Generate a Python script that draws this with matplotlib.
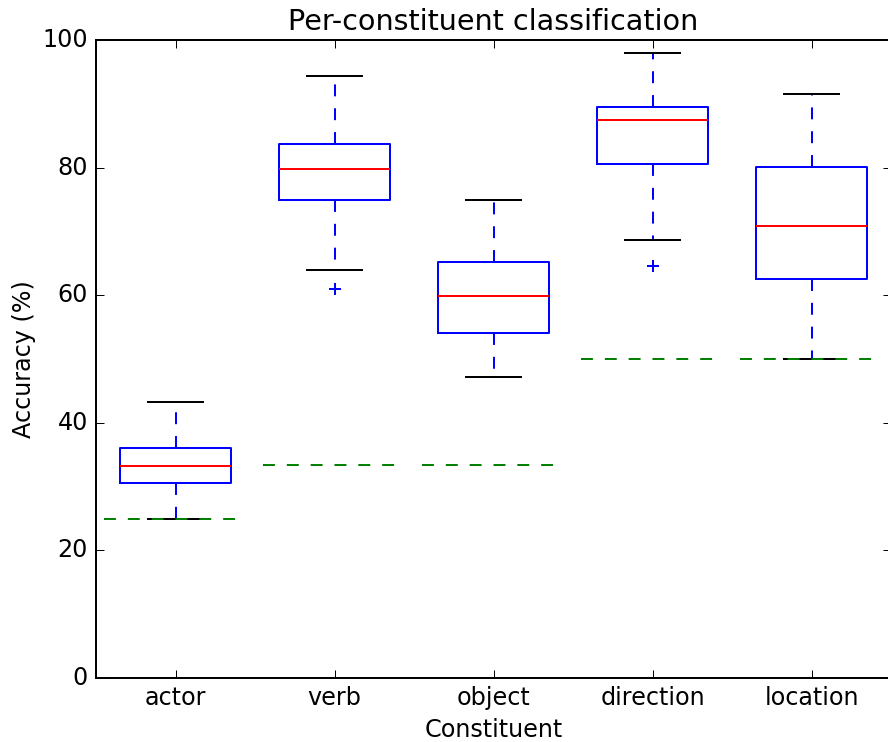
import matplotlib
matplotlib.use("Agg")
import matplotlib.pyplot as plt

plt.style.use("classic")

categories = ["actor", "verb", "object", "direction", "location"]
whislo = [25.0, 64.0, 47.2, 68.7, 50.0]
q1 = [30.6, 74.9, 54.0, 80.6, 62.5]
med = [33.3, 79.8, 59.8, 87.5, 70.8]
q3 = [36.0, 83.7, 65.2, 89.5, 80.1]
whishi = [43.2, 94.4, 74.9, 97.9, 91.6]
fliers = [[], [61.0], [], [64.5], []]
chance = [25.0, 100 / 3, 100 / 3, 50.0, 50.0]

stats = []
for i, name in enumerate(categories):
    stats.append(dict(label=name, whislo=whislo[i], q1=q1[i], med=med[i],
                      q3=q3[i], whishi=whishi[i], fliers=fliers[i]))

dpi = 143
fig = plt.figure(figsize=(888 / dpi, 742 / dpi), dpi=dpi)
fig.patch.set_facecolor("white")
W, H = 888, 742
left, right, top, bottom = 96, 891, 40, 678
ax = fig.add_axes([left / W, 1 - bottom / H, (right - left) / W, (bottom - top) / H])

positions = list(range(1, len(categories) + 1))
ax.bxp(stats, positions=positions, widths=0.7,
       flierprops=dict(marker="+", markeredgecolor="b", markerfacecolor="none",
                       markersize=6, linestyle="none"))

for p, c in zip(positions, chance):
    ax.hlines(c, p - 0.45, p + 0.45, colors="g", linestyles="--")

ax.set_xlim(0.5, len(categories) + 0.5)
ax.set_ylim(0, 100)
ax.set_xticks(positions)
ax.set_xticklabels(categories)
ax.set_xlabel("Constituent", labelpad=4)
ax.set_ylabel("Accuracy (%)", labelpad=3)
ax.set_title("Per-constituent classification")

fig.savefig("out.png", dpi=dpi, facecolor="white")
